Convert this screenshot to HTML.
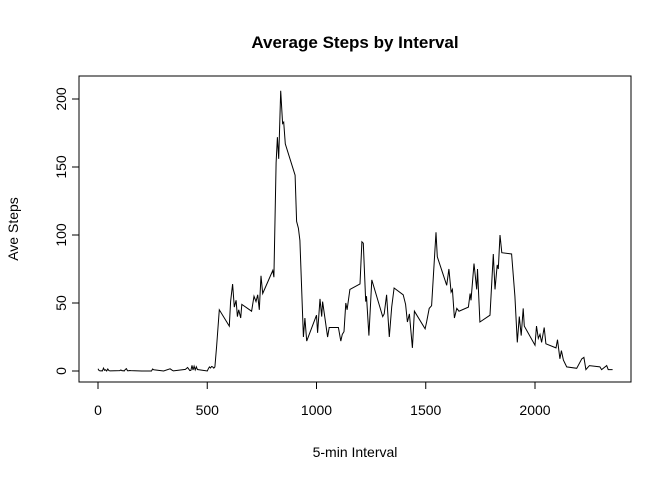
<!DOCTYPE html>
<html><head><meta charset="utf-8"><style>
body{margin:0;background:#fff}
svg{display:block;font-family:"Liberation Sans",Arial,sans-serif}
</style></head><body>
<svg id="chart" width="672" height="480" viewBox="0 0 672 480" xmlns="http://www.w3.org/2000/svg">
<text x="355" y="48" text-anchor="middle" font-size="17" font-weight="bold">Average Steps by Interval</text>
<rect x="79" y="76" width="552" height="306" fill="none" stroke="#000" stroke-width="1"/>
<g id="xaxis"></g>
<g id="yaxis"></g>
<path id="line" fill="none" stroke="#000" stroke-width="1"/>
<text x="355" y="457" text-anchor="middle" font-size="14">5-min Interval</text>
<text transform="translate(18,229) rotate(-90)" text-anchor="middle" font-size="14">Ave Steps</text>
</svg>
<script>
const intervals=[0,5,10,15,20,25,30,35,40,45,50,55,100,105,110,115,120,125,130,135,140,145,150,200,230,245,250,255,300,330,340,345,400,410,420,425,430,435,440,445,450,455,500,505,510,515,520,525,530,535,543,555,601,607,616,624,632,638,644,653,658,703,714,723,731,738,746,754,800,805,815,821,827,836,845,850,857,902,909,917,924,940,947,955,1000,1005,1016,1024,1028,1051,1058,1100,1111,1118,1126,1134,1140,1153,1199,1208,1214,1225,1229,1240,1253,1303,1310,1321,1333,1344,1355,1397,1408,1416,1425,1439,1448,1497,1504,1516,1527,1547,1553,1596,1606,1616,1622,1631,1642,1652,1695,1703,1707,1721,1733,1737,1748,1794,1809,1817,1827,1832,1840,1848,1893,1908,1919,1928,1937,1946,1951,2000,2007,2015,2023,2030,2042,2050,2096,2103,2114,2121,2130,2145,2191,2214,2224,2233,2249,2297,2305,2328,2335,2355];
const steps=[1.7,0.3,0.1,0.2,0.1,2.1,0.5,0.9,0,1.5,0.3,0.1,0.3,0.7,0.2,0.3,0,1.1,1.8,0.2,0.2,0.4,0.3,0,0,0,1.5,0.9,0,1.6,0.5,0.1,1.2,2.6,0.3,0.5,4.1,0.7,3.5,0.8,3.1,1.1,0,1.6,3,2.2,3.3,3,2.1,3,18,45,33,51,64,47,52,40,45,39,49,44,55,51,56,45,70,57,74,69,153,172,156,206,182,183,167,144,110,105,96,25,39,22,41,28,53,40,51,25,32,32,22,27,29,50,45,60,64,95,94,51,55,26,67,40,42,56,25,47,61,56,49,36,42,17,44,31,36,46,48,102,84,63,75,58,60,39,46,44,47,57,52,79,60,75,36,41,86,60,78,75,100,87,86,55,21,40,26,46,33,19,33,24,27,21,32,20,17,23,9,15,8,3,2,9,10,1,4,3,1,4,1,1];
const xTicks=[0,500,1000,1500,2000];
const yTicks=[0,50,100,150,200];
const X=v=>98+v*(535-98)/2000;
const Y=v=>371-v*(371-99)/200;
const NS="http://www.w3.org/2000/svg";
function mk(t,a,p){const e=document.createElementNS(NS,t);for(const k in a)e.setAttribute(k,a[k]);p.appendChild(e);return e;}
const xa=document.getElementById('xaxis'),ya=document.getElementById('yaxis');
mk('line',{x1:X(0),x2:X(2000),y1:382,y2:382,stroke:'#000'},xa);
xTicks.forEach(t=>{
 const l=mk('line',{x1:X(t),x2:X(t),y1:382,y2:389,stroke:'#000'},xa);
 
 
 const tx=mk('text',{x:X(t),y:415,'text-anchor':'middle','font-size':14},xa);
 
 
 tx.textContent=t;
});
mk('line',{x1:79,x2:79,y1:Y(0),y2:Y(200),stroke:'#000'},ya);
yTicks.forEach(t=>{
 const l=mk('line',{x1:72,x2:79,y1:Y(t),y2:Y(t),stroke:'#000'},ya);
 
 
 const tx=mk('text',{transform:`translate(66,${Y(t)}) rotate(-90)`,'text-anchor':'middle','font-size':14},ya);
 
 
 tx.textContent=t;
});
document.getElementById('line').setAttribute('d',intervals.map((v,i)=>(i?'L':'M')+X(v).toFixed(1)+','+Y(steps[i]).toFixed(1)).join(''));
</script>
</body></html>
